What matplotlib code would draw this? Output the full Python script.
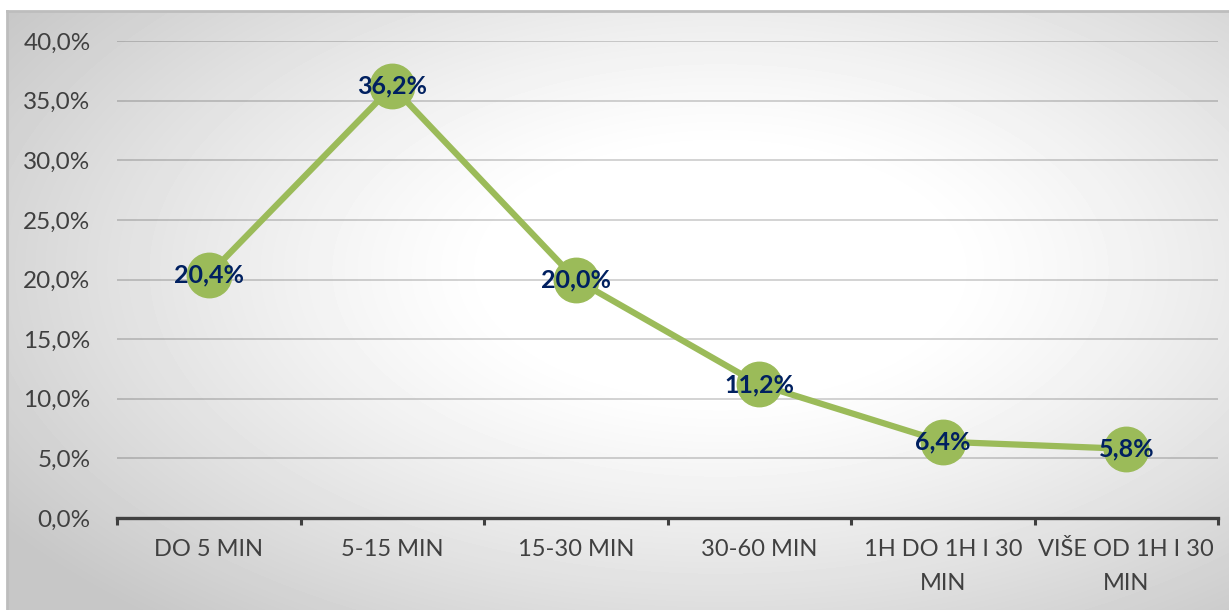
import numpy as np
import matplotlib
matplotlib.use("Agg")
import matplotlib.pyplot as plt
from matplotlib.ticker import FuncFormatter

categories = ["DO 5 MIN", "5-15 MIN", "15-30 MIN", "30-60 MIN", "1H DO 1H I 30\nMIN", "VIŠE OD 1H I 30\nMIN"]
values = [20.4, 36.2, 20.0, 11.2, 6.4, 5.8]
yticks = [0, 5, 10, 15, 20, 25, 30, 35, 40]

plt.rcParams['font.family'] = ['Lato', 'DejaVu Sans']

W, H = 1229, 610
fig = plt.figure(figsize=(W / 100, H / 100), dpi=100)

# background radial gradient panel
bg = fig.add_axes([7 / W, 0, 1 - 7 / W, (H - 11) / H])
bg.set_zorder(0)
yy, xx = np.mgrid[11:H, 7:W]
cx, cy = 720, 270
d = np.sqrt(((xx - cx) / 640.0) ** 2 + ((yy - cy) / 340.0) ** 2)
v = 1 - 0.22 * np.clip((d - 0.35) / 1.0, 0, 1) ** 1.2
bg.imshow(v, cmap='gray', vmin=0, vmax=1, aspect='auto', interpolation='bilinear')
bg.set_axis_off()
fig.add_artist(plt.Line2D([7 / W, 1], [(H - 11) / H, (H - 11) / H], color='#BDBDBD', lw=2))
fig.add_artist(plt.Line2D([7 / W, 7 / W], [0, (H - 11) / H], color='#BDBDBD', lw=2))

left, right = 117 / W, 1218 / W
bottom, top = (H - 518) / H, (H - 41) / H
ax = fig.add_axes([left, bottom, right - left, top - bottom])
ax.set_zorder(1)
ax.patch.set_visible(False)

x = np.arange(len(categories))
ax.plot(x, values, color='#9BBB59', lw=4.5, marker='o', markersize=32,
        markerfacecolor='#9BBB59', markeredgecolor='#9BBB59', zorder=3, solid_joinstyle='round')
for xi, vi in zip(x, values):
    ax.text(xi, vi, f"{vi:.1f}%".replace('.', ','), ha='center', va='center',
            fontsize=18, fontweight='bold', color='#002060', zorder=4)

ax.set_xlim(-0.5, len(categories) - 0.5)
ax.set_ylim(0, 40)
ax.set_yticks(yticks)
ax.yaxis.set_major_formatter(FuncFormatter(lambda v, p: f"{v:.1f}%".replace('.', ',')))
ax.grid(axis='y', color='#000000', alpha=0.2, lw=1.2)
ax.set_axisbelow(True)

ax.set_xticks(np.arange(-0.5, len(categories), 1.0))
ax.set_xticklabels([])
ax.set_xticks(x, minor=True)
ax.set_xticklabels(categories, minor=True, fontsize=17, color='#404040', linespacing=1.75)
ax.tick_params(axis='x', which='major', direction='out', length=5, width=2.2, color='#404040')
ax.tick_params(axis='x', which='minor', length=0, pad=15)
ax.tick_params(axis='y', length=0, pad=19, labelsize=17.5, labelcolor='#404040')
for lbl in ax.get_xticklabels(minor=True):
    lbl.set_verticalalignment('top')

for s in ['top', 'right', 'left']:
    ax.spines[s].set_visible(False)
ax.spines['bottom'].set_color('#404040')
ax.spines['bottom'].set_linewidth(2.4)

fig.savefig('out.png', dpi=100)
